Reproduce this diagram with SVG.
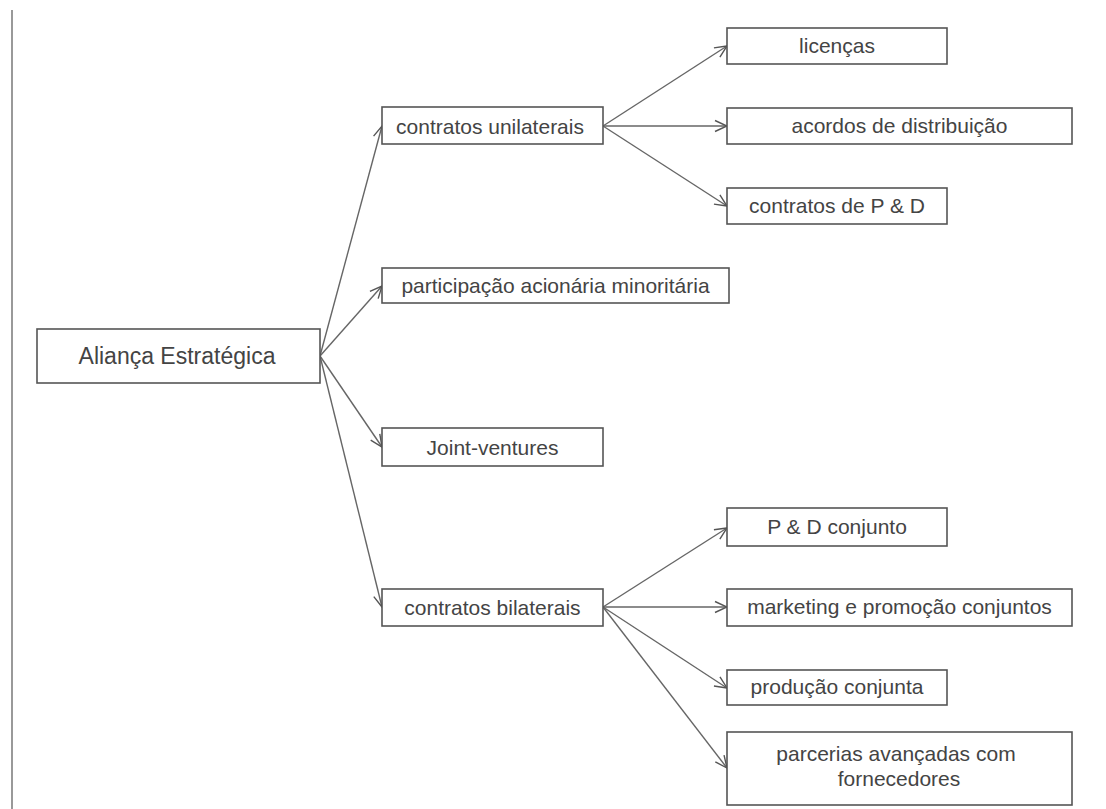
<svg xmlns="http://www.w3.org/2000/svg" width="1106" height="809" viewBox="0 0 1106 809">
<defs>
<marker id="arr" viewBox="0 0 14 14" refX="13" refY="7" markerWidth="14" markerHeight="14" markerUnits="userSpaceOnUse" orient="auto">
<path d="M1,1.5 L13,7 L1,12.5" fill="none" stroke="#555" stroke-width="1.4"/>
</marker>
<style>
.box{fill:#fff;stroke:#555;stroke-width:1.6}
.t{font-family:"Liberation Sans",Arial,sans-serif;font-size:21px;fill:#444;text-anchor:middle}
.root{font-size:23px}
.c{fill:none;stroke:#666;stroke-width:1.4;marker-end:url(#arr)}
</style>
</defs>
<rect width="1106" height="809" fill="#fff"/>
<line x1="12" y1="10" x2="12" y2="809" stroke="#999" stroke-width="2"/>
<g id="connectors">
<line class="c" x1="320" y1="356" x2="382" y2="126"/>
<line class="c" x1="320" y1="356" x2="382" y2="286"/>
<line class="c" x1="320" y1="356" x2="382" y2="447"/>
<line class="c" x1="320" y1="356" x2="382" y2="607"/>
<line class="c" x1="603" y1="126" x2="727" y2="46"/>
<line class="c" x1="603" y1="126" x2="727" y2="126"/>
<line class="c" x1="603" y1="126" x2="727" y2="206"/>
<line class="c" x1="603" y1="607" x2="727" y2="528"/>
<line class="c" x1="603" y1="607" x2="727" y2="607"/>
<line class="c" x1="603" y1="607" x2="727" y2="688"/>
<line class="c" x1="603" y1="607" x2="727" y2="768"/>
</g>
<g id="n-root"><rect class="box" x="37" y="329" width="283" height="54"/><text class="t root" x="177" y="364">Aliança Estratégica</text></g>
<g id="n-unilaterais"><rect class="box" x="382" y="107" width="221" height="37"/><text class="t" x="490" y="134">contratos unilaterais</text></g>
<g id="n-participacao"><rect class="box" x="382" y="268" width="347" height="35"/><text class="t" x="555.5" y="293">participação acionária minoritária</text></g>
<g id="n-joint"><rect class="box" x="382" y="428" width="221" height="38"/><text class="t" x="492.5" y="455">Joint-ventures</text></g>
<g id="n-bilaterais"><rect class="box" x="382" y="589" width="221" height="37"/><text class="t" x="492.5" y="615">contratos bilaterais</text></g>
<g id="n-licencas"><rect class="box" x="727" y="28" width="220" height="36"/><text class="t" x="837" y="53">licenças</text></g>
<g id="n-acordos"><rect class="box" x="727" y="108" width="345" height="36"/><text class="t" x="899.5" y="133">acordos de distribuição</text></g>
<g id="n-pd"><rect class="box" x="727" y="188" width="220" height="36"/><text class="t" x="837" y="213">contratos de P &amp; D</text></g>
<g id="n-pdconj"><rect class="box" x="727" y="508" width="220" height="38"/><text class="t" x="837" y="534">P &amp; D conjunto</text></g>
<g id="n-marketing"><rect class="box" x="727" y="589" width="345" height="37"/><text class="t" x="899.5" y="614">marketing e promoção conjuntos</text></g>
<g id="n-producao"><rect class="box" x="727" y="670" width="220" height="35"/><text class="t" x="837" y="694">produção conjunta</text></g>
<g id="n-parcerias"><rect class="box" x="727" y="732" width="345" height="73"/><text class="t" x="896" y="761">parcerias avançadas com</text><text class="t" x="899" y="786">fornecedores</text></g>
</svg>
